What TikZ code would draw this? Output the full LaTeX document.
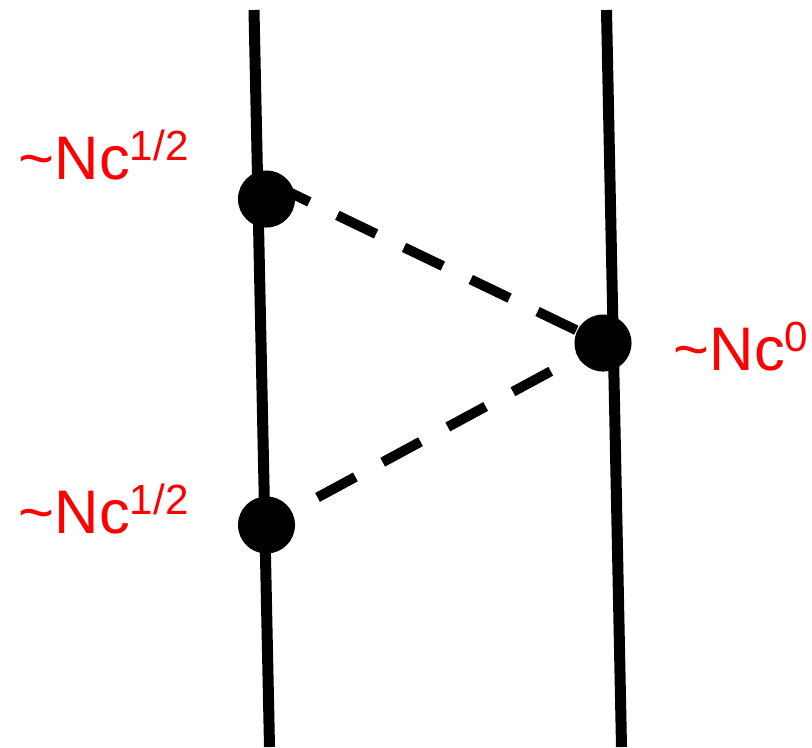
\documentclass[tikz,border=0pt]{standalone}
\usepackage{fontspec}
\setmainfont{Liberation Sans}
\usepackage{xcolor}
\usetikzlibrary{positioning}

\newcommand{\ordNc}[1]{\textasciitilde Nc\raisebox{0.19cm}{\fontsize{12}{14}\selectfont #1}}

\begin{document}
\begin{tikzpicture}[
    x=0.01cm, y=-0.01cm,
    strand/.style={line width=0.11cm},
    vertex/.style={circle, fill=black, inner sep=0pt, minimum size=0.57cm},
    link/.style={line width=0.1cm, dash pattern=on 0.43cm off 0.31cm},
    order/.style={text=red, font=\fontsize{17.5}{20}\selectfont, anchor=base west, inner sep=0pt}
]
\useasboundingbox (0,0) rectangle (812,747);
\coordinate (lt) at (254,10);
\coordinate (lb) at (269.5,747);
\coordinate (rt) at (606.5,10);
\coordinate (rb) at (621.5,747);
\draw[strand] (lt) -- (lb);
\draw[strand] (rt) -- (rb);
\node[vertex] (dA) at (266.5,199) {};
\node[vertex] (dR) at (603,343) {};
\node[vertex] (dB) at (266.5,525) {};
\draw[link, dash phase=0.11cm] ([shift={(14,-11)}]dA.center) -- (dR.center);
\draw[link, dash phase=0.16cm] (dB.center) -- (dR.center);
\node[order] (nA) at (18,179) {\ordNc{1/2}};
\node[order] (nR) at (673,370) {\ordNc{0}};
\node[order] (nB) at (18,533) {\ordNc{1/2}};
\end{tikzpicture}
\end{document}
